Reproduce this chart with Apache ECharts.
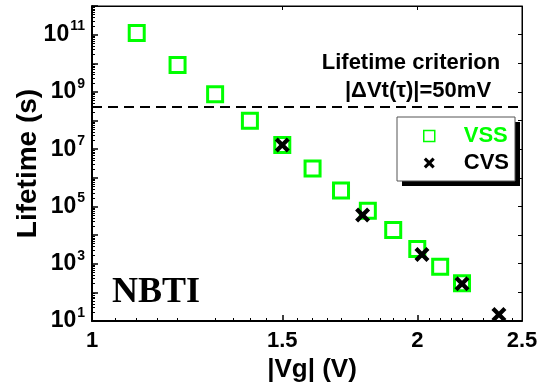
<!DOCTYPE html>
<html><head><meta charset="utf-8">
<script src="https://cdn.jsdelivr.net/npm/echarts@6/dist/echarts.min.js"></script>
<style>html,body{margin:0;padding:0;background:#fff}#c{width:546px;height:387px}</style>
</head><body><div id="c"></div>
<script>
// ---- data ----
const vssVg   = [1.1, 1.2, 1.3, 1.4, 1.5, 1.6, 1.7, 1.8, 1.9, 2.0, 2.1, 2.2];
const vssLife = [1.15e11, 8.7e9, 8.3e8, 9.8e7, 1.4e7, 2.1e6, 3.6e5, 7.1e4, 1.5e4, 3.3e3, 7.9e2, 2.1e2];
const cvsVg   = [1.5, 1.78, 2.02, 2.2, 2.38];
const cvsLife = [1.4e7, 5.0e4, 2.1e3, 2.0e2, 17];
const xTickLabels = [1, 1.5, 2, 2.5];
const xMajorTicks = [1.5, 2];
const yTickValues = [1e1, 1e2, 1e3, 1e4, 1e5, 1e6, 1e7, 1e8, 1e9, 1e10, 1e11, 1e12];
const yLabelValues = [1e1, 1e3, 1e5, 1e7, 1e9, 1e11];
const criterion = 3e8;
const xMinorTicks = [];
for (let i = 21; i < 50; i++) { if (i % 10 !== 0 && i % 10 !== 5) xMinorTicks.push(i / 20); }
const yMinorTicks = [];
for (let e = 1; e < 12; e++) for (let m = 2; m <= 9; m++) yMinorTicks.push(m * Math.pow(10, e));

const GREEN = '#00ff00';
const FONT = 'Arial, "Liberation Sans", sans-serif';
const XPATH = 'path://M0,2L2,0L5,3L8,0L10,2L7,5L10,8L8,10L5,7L2,10L0,8L3,5Z';

const chart = echarts.init(document.getElementById('c'), null, {renderer: 'canvas'});
const xBase = {type: 'log', min: 1, max: 2.5, splitLine: {show: false}};
const yBase = {type: 'log', min: 10, max: 1e12, splitLine: {show: false}};
chart.setOption({
  animation: false,
  backgroundColor: '#fff',
  textStyle: {fontFamily: FONT},
  grid: {left: 92, right: 24, top: 6, bottom: 66, show: true, borderColor: '#000', borderWidth: 1,
         containLabel: false, outerBoundsMode: 'none'},
  xAxis: [
    Object.assign({}, xBase, {
      position: 'bottom',
      axisLine: {show: true, lineStyle: {color: '#000', width: 2}},
      axisTick: {show: true, inside: true, length: 6, customValues: xMajorTicks, lineStyle: {color: '#000', width: 1.5}},
      axisLabel: {customValues: xTickLabels, fontSize: 22, fontWeight: 'bold', color: '#000', margin: 9, fontFamily: FONT},
      name: '|Vg| (V)', nameLocation: 'middle', nameGap: 36, nameMoveOverlap: false,
      nameTextStyle: {fontSize: 26, fontWeight: 'bold', color: '#000', fontFamily: FONT, padding: [0, 0, 0, 10]}
    }),
    Object.assign({}, xBase, {
      position: 'bottom',
      axisLine: {show: false},
      axisTick: {show: true, inside: true, length: 3, customValues: xMinorTicks, lineStyle: {color: '#000', width: 1}},
      axisLabel: {show: false}
    }),
    Object.assign({}, xBase, {
      position: 'top',
      axisLine: {show: true, lineStyle: {color: '#000', width: 1}},
      axisTick: {show: true, inside: true, length: 4, customValues: xMajorTicks, lineStyle: {color: '#000', width: 1}},
      axisLabel: {show: false}
    })
  ],
  yAxis: [
    Object.assign({}, yBase, {
      position: 'left',
      axisLine: {show: true, lineStyle: {color: '#000', width: 2}},
      axisTick: {show: true, inside: true, length: 6, customValues: yTickValues, lineStyle: {color: '#000', width: 1.5}},
      axisLabel: {
        customValues: yLabelValues, margin: 7, color: '#000',
        formatter: v => '{b|10}{s|' + Math.round(Math.log10(v)) + '}',
        rich: {
          b: {fontSize: 23, fontWeight: 'bold', color: '#000', fontFamily: FONT},
          s: {fontSize: 14, fontWeight: 'bold', color: '#000', fontFamily: FONT, padding: [0, 0, 16, 1]}
        }
      },
      name: 'Lifetime (s)', nameLocation: 'middle', nameGap: 50, nameMoveOverlap: false,
      nameTextStyle: {fontSize: 28, fontWeight: 'bold', color: '#000', fontFamily: FONT}
    }),
    Object.assign({}, yBase, {
      position: 'left',
      axisLine: {show: false},
      axisTick: {show: true, inside: true, length: 3, customValues: yMinorTicks, lineStyle: {color: '#000', width: 1}},
      axisLabel: {show: false}
    }),
    Object.assign({}, yBase, {
      position: 'right',
      axisLine: {show: true, lineStyle: {color: '#000', width: 1}},
      axisTick: {show: true, inside: true, length: 4, customValues: yTickValues, lineStyle: {color: '#000', width: 1}},
      axisLabel: {show: false}
    })
  ],
  legend: {
    orient: 'vertical', left: 397, top: 117, z: 10,
    padding: [8, 7, 7, 26], itemWidth: 11, itemHeight: 11, itemGap: 5,
    textStyle: {fontSize: 22, fontWeight: 'bold', fontFamily: FONT, padding: [0, 0, 0, 24]},
    data: [
      {name: 'VSS', textStyle: {color: GREEN}, itemStyle: {borderWidth: 1.5, opacity: 1}},
      {name: 'CVS', textStyle: {color: '#000'}, itemStyle: {opacity: 1}}
    ]
  },
  series: [
    {
      name: 'VSS', type: 'scatter', xAxisIndex: 0, yAxisIndex: 0,
      symbol: 'rect', symbolSize: 15,
      itemStyle: {color: 'rgba(0,0,0,0)', borderColor: GREEN, borderWidth: 3, opacity: 1},
      data: vssVg.map((v, i) => [v, vssLife[i]]),
      markLine: {
        silent: true, symbol: ['none', 'none'], label: {show: false},
        lineStyle: {color: '#000', width: 2, type: [10, 6]},
        data: [{yAxis: criterion}]
      },
      z: 2
    },
    {
      name: 'CVS', type: 'scatter', xAxisIndex: 0, yAxisIndex: 0,
      symbol: XPATH, symbolSize: 15,
      itemStyle: {color: '#000', opacity: 1},
      data: cvsVg.map((v, i) => [v, cvsLife[i]]),
      z: 3
    }
  ],
  graphic: [
    {type: 'rect', z: 8, shape: {x: 402, y: 122, width: 118, height: 64}, style: {fill: '#000'}},
    {type: 'rect', z: 9, shape: {x: 397, y: 117, width: 118, height: 64}, style: {fill: '#fff', stroke: '#555', lineWidth: 1}},
    {type: 'text', x: 112, y: 293, style: {text: 'NBTI', font: 'bold 36px "Liberation Serif", "Times New Roman", serif', fill: '#000', align: 'left', verticalAlign: 'middle'}},
    {type: 'text', x: 411, y: 63, style: {text: 'Lifetime criterion', font: 'bold 22px ' + FONT, fill: '#000', align: 'center', verticalAlign: 'middle'}},
    {type: 'text', x: 418, y: 91, style: {text: '|\u0394Vt(\u03c4)|=50mV', font: 'bold 22px ' + FONT, fill: '#000', align: 'center', verticalAlign: 'middle'}}
  ]
});
</script></body></html>
